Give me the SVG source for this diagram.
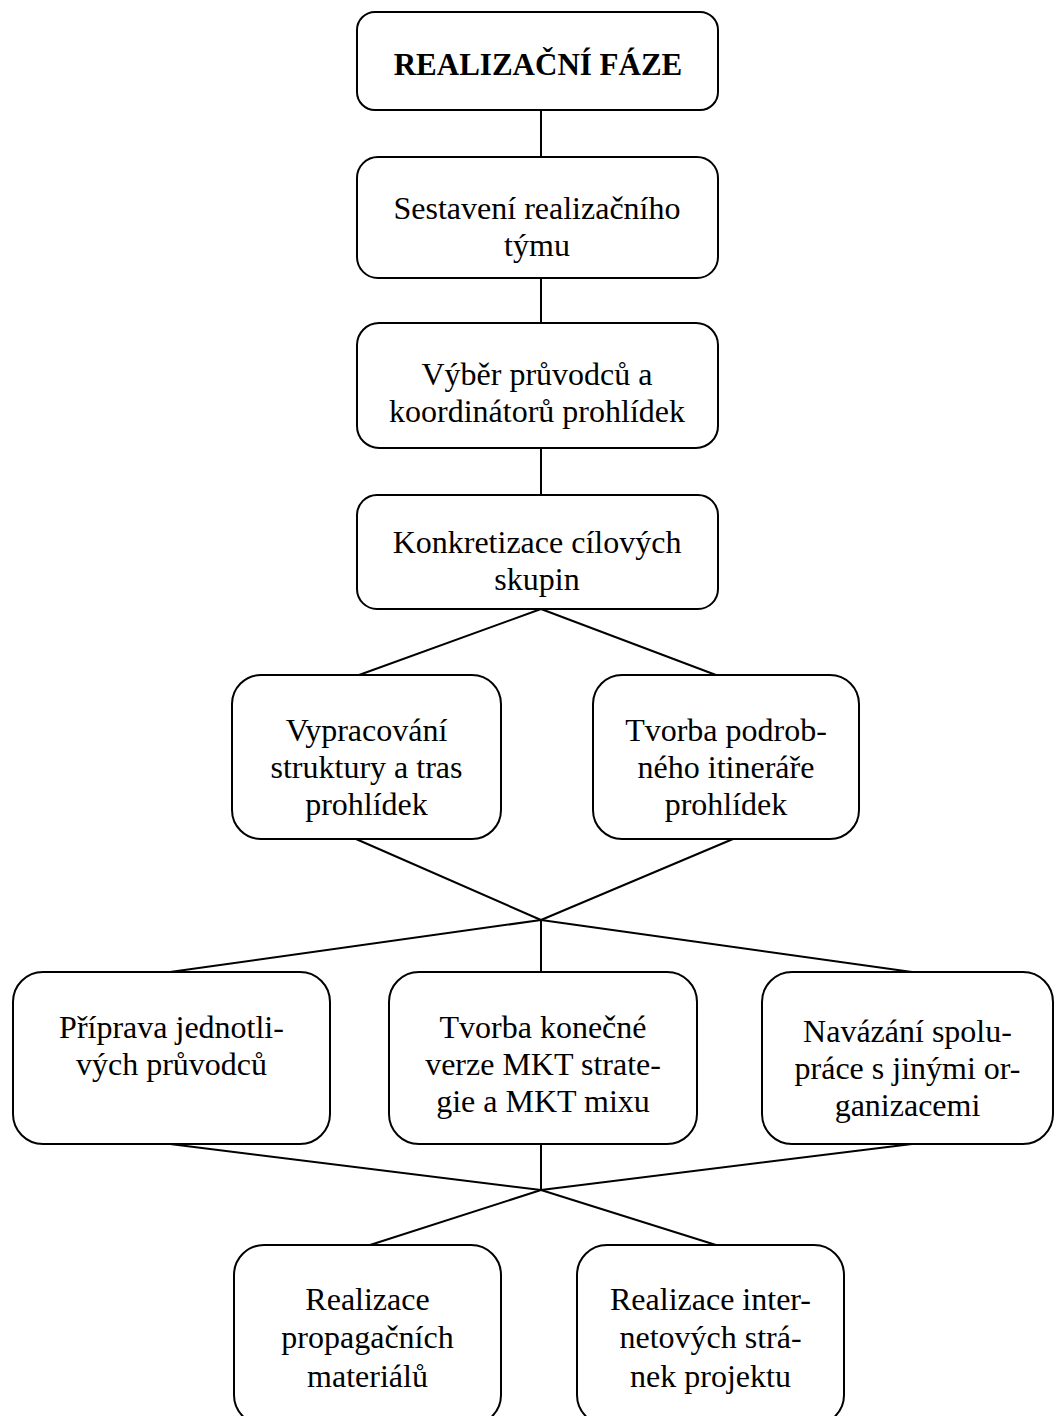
<svg xmlns="http://www.w3.org/2000/svg" width="1054" height="1416" viewBox="0 0 1054 1416">
  <style>
    .box { fill: #ffffff; stroke: #000000; stroke-width: 2; }
    .lbl { font-family: "Liberation Serif", "Times New Roman", serif; font-size: 32px; fill: #000000; text-anchor: middle; }
    .title { font-weight: bold; font-size: 31px; }
    .wire { fill: none; stroke: #000000; stroke-width: 2; stroke-linecap: round; stroke-linejoin: round; }
  </style>
  <rect x="0" y="0" width="1054" height="1416" fill="#ffffff"/>

  <g id="connectors">
    <line class="wire" x1="541" y1="110" x2="541" y2="157"/>
    <line class="wire" x1="541" y1="278" x2="541" y2="323"/>
    <line class="wire" x1="541" y1="448" x2="541" y2="495"/>
    <polyline class="wire" points="359,675 541,609 716,675"/>
    <polyline class="wire" points="356,839 541,920 733,839"/>
    <line class="wire" x1="541" y1="920" x2="170" y2="972"/>
    <line class="wire" x1="541" y1="920" x2="541" y2="972"/>
    <line class="wire" x1="541" y1="920" x2="912" y2="972"/>
    <line class="wire" x1="170" y1="1144" x2="541" y2="1190"/>
    <line class="wire" x1="541" y1="1144" x2="541" y2="1190"/>
    <line class="wire" x1="912" y1="1144" x2="541" y2="1190"/>
    <line class="wire" x1="541" y1="1190" x2="370" y2="1245"/>
    <line class="wire" x1="541" y1="1190" x2="716" y2="1245"/>
  </g>

  <g id="node-realizacni-faze">
    <rect class="box" x="357" y="12" width="361" height="98" rx="18"/>
    <text class="lbl title" x="538" y="75">REALIZAČNÍ FÁZE</text>
  </g>

  <g id="node-sestaveni-tymu">
    <rect class="box" x="357" y="157" width="361" height="121" rx="21"/>
    <text class="lbl" x="537" y="219">Sestavení realizačního</text>
    <text class="lbl" x="537" y="256">týmu</text>
  </g>

  <g id="node-vyber-pruvodcu">
    <rect class="box" x="357" y="323" width="361" height="125" rx="22"/>
    <text class="lbl" x="537" y="385">Výběr průvodců a</text>
    <text class="lbl" x="537" y="422">koordinátorů prohlídek</text>
  </g>

  <g id="node-cilove-skupiny">
    <rect class="box" x="357" y="495" width="361" height="114" rx="20"/>
    <text class="lbl" x="537" y="553">Konkretizace cílových</text>
    <text class="lbl" x="537" y="590">skupin</text>
  </g>

  <g id="node-struktura-tras">
    <rect class="box" x="232" y="675" width="269" height="164" rx="29"/>
    <text class="lbl" x="366.5" y="741">Vypracování</text>
    <text class="lbl" x="366.5" y="778">struktury a tras</text>
    <text class="lbl" x="366.5" y="815">prohlídek</text>
  </g>

  <g id="node-itinerar">
    <rect class="box" x="593" y="675" width="266" height="164" rx="29"/>
    <text class="lbl" x="726" y="741">Tvorba podrob-</text>
    <text class="lbl" x="726" y="778">ného itineráře</text>
    <text class="lbl" x="726" y="815">prohlídek</text>
  </g>

  <g id="node-priprava-pruvodcu">
    <rect class="box" x="13" y="972" width="317" height="172" rx="30"/>
    <text class="lbl" x="171.5" y="1038">Příprava jednotli-</text>
    <text class="lbl" x="171.5" y="1075">vých průvodců</text>
  </g>

  <g id="node-mkt-strategie">
    <rect class="box" x="389" y="972" width="308" height="172" rx="30"/>
    <text class="lbl" x="543" y="1038">Tvorba konečné</text>
    <text class="lbl" x="543" y="1075">verze MKT strate-</text>
    <text class="lbl" x="543" y="1112">gie a MKT mixu</text>
  </g>

  <g id="node-spoluprace">
    <rect class="box" x="762" y="972" width="291" height="172" rx="30"/>
    <text class="lbl" x="907.5" y="1042">Navázání spolu-</text>
    <text class="lbl" x="907.5" y="1079">práce s jinými or-</text>
    <text class="lbl" x="907.5" y="1116">ganizacemi</text>
  </g>

  <!-- bottom row runs past the lower edge of the canvas -->
  <g id="node-propagacni-materialy">
    <rect class="box" x="234" y="1245" width="267" height="180" rx="30"/>
    <text class="lbl" x="367.5" y="1310">Realizace</text>
    <text class="lbl" x="367.5" y="1348">propagačních</text>
    <text class="lbl" x="367.5" y="1387">materiálů</text>
  </g>

  <g id="node-internetove-stranky">
    <rect class="box" x="577" y="1245" width="267" height="180" rx="30"/>
    <text class="lbl" x="710.5" y="1310">Realizace inter-</text>
    <text class="lbl" x="710.5" y="1348">netových strá-</text>
    <text class="lbl" x="710.5" y="1387">nek projektu</text>
  </g>
</svg>
